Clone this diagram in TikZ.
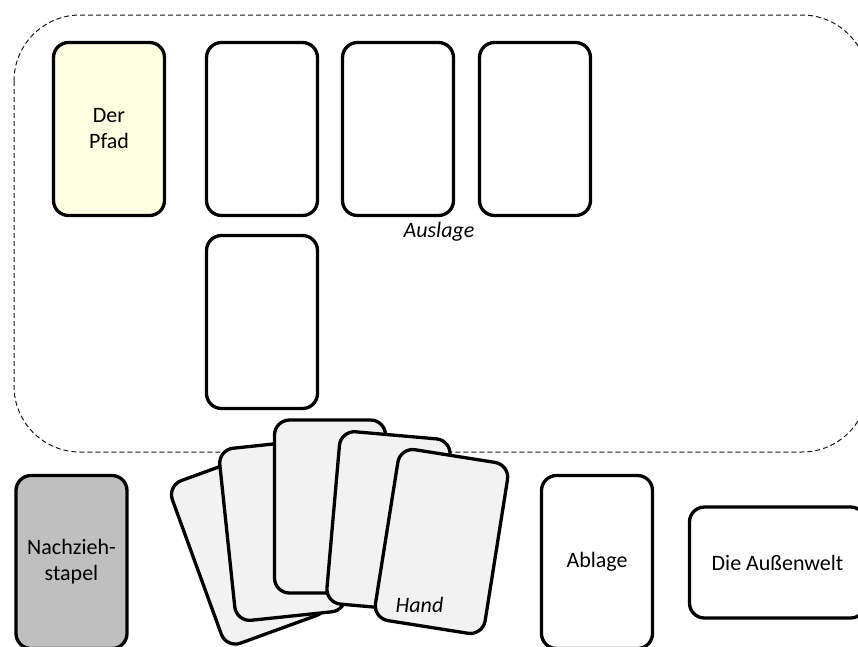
\documentclass[tikz,border=0pt]{standalone}
\usepackage{fontspec}
\setmainfont{Carlito}
\begin{document}
\begin{tikzpicture}[x=1pt,y=-1pt,
  card/.style={draw=black, line width=3.3pt, rounded corners=15pt, minimum width=111pt, minimum height=173pt, inner sep=0pt, align=center, font=\fontsize{22}{26}\selectfont},
  handcard/.style={card, fill=handgray},
  lbl/.style={inner sep=0pt, font=\fontsize{22}{26}\selectfont\itshape}
]
\definecolor{pfadyellow}{HTML}{FFFFE1}
\definecolor{stapelgray}{HTML}{BFBFBF}
\definecolor{handgray}{HTML}{F2F2F2}
\useasboundingbox (0,0) rectangle (858,646);
% Auslage area
\draw[dash pattern=on 5pt off 3pt, line width=1pt, black!90, rounded corners=66pt] (14,15) rectangle (868,452);
\node[card, fill=pfadyellow] (pfad) at (109,129) {Der\\Pfad};
\node[card] (a1) at (262,129) {};
\node[card] (a2) at (398,129) {};
\node[card] (a3) at (535,129) {};
\node[card] (a4) at (262,322) {};
\node[lbl] (auslage) at (439,232) {Auslage};
% bottom row
\node[card, fill=stapelgray] (stapel) at (71.5,562) {Nachzieh-\\stapel};
\node[card] (ablage) at (597,562) {Ablage};
\node[card, minimum width=176pt, minimum height=111pt] (welt) at (777.5,562.5) {Die Außenwelt};
% hand
\node[handcard, rotate=20] (h1) at (249,548) {};
\node[handcard, rotate=6] (h2) at (282.5,530) {};
\node[handcard] (h3) at (330,506.5) {};
\node[handcard, rotate=-5] (h4) at (388.5,521.5) {};
\node[handcard, rotate=-9] (h5) at (441.5,541.5) {};
\node[lbl] (hand) at (419.5,605) {Hand};
\end{tikzpicture}
\end{document}
